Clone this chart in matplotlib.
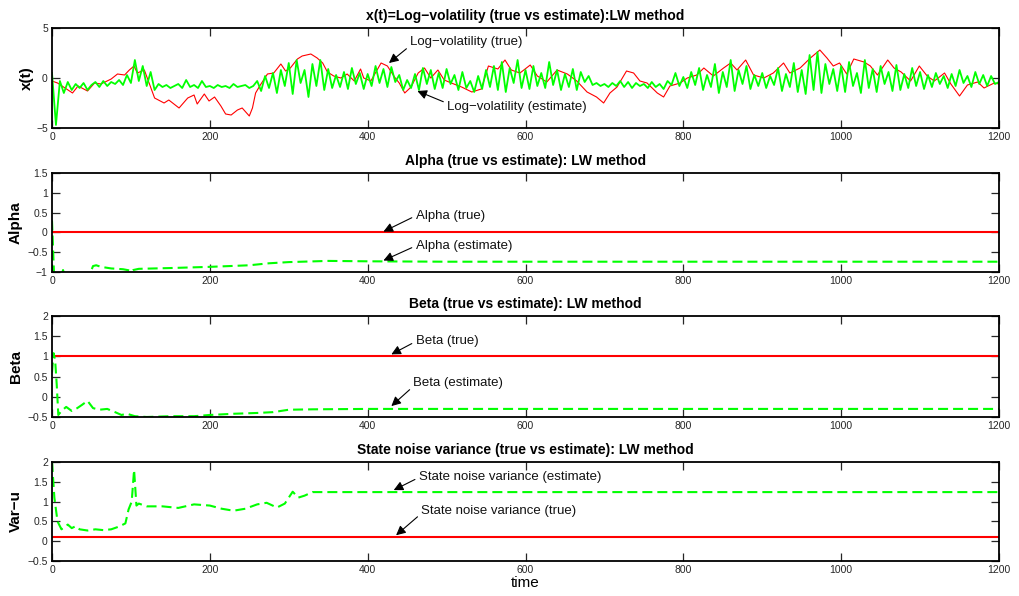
import numpy as np
import matplotlib
matplotlib.use("Agg")
import matplotlib.pyplot as plt

plt.rcParams['font.family'] = ['Liberation Sans', 'DejaVu Sans']
plt.rcParams['axes.unicode_minus'] = True

# ---------------- data ----------------
T_END = 1200

# true log-volatility (sampled at irregular times)
xt_true_t = [0, 7, 26, 33, 45, 54, 62, 75, 83, 92, 98, 104, 108, 117, 123, 130, 142, 148, 161, 172,
             180, 184, 193, 199, 206, 214, 220, 227, 235, 241, 250, 254, 258, 264, 273, 281, 290, 296, 302, 311,
             317, 328, 336, 343, 349, 357, 366, 374, 383, 391, 395, 404, 417, 425, 434, 440, 447, 455, 464, 472,
             480, 489, 497, 506, 519, 532, 544, 553, 565, 574, 582, 593,
             606, 615, 627, 640, 653, 665, 678, 690, 699, 707, 716, 728, 737, 745, 754, 767, 775, 783, 796, 805,
             817, 826, 838, 851, 860, 868, 879, 889, 902, 914, 927, 935, 948, 961, 973, 982, 990, 998, 1007, 1016,
             1029, 1037, 1046, 1059, 1067, 1076, 1088, 1099, 1109, 1118, 1131, 1139, 1150, 1160, 1173, 1181, 1194, 1200]
xt_true = [-0.3, -0.5, -1.5, -0.8, -1.3, -0.5, -0.6, -0.1, 0.4, 0.3, 0.8, 1.2, 0.5, 0.8, -0.5, -2.0, -2.5, -2.2, -3.0, -2.0,
           -1.7, -2.6, -1.6, -2.3, -1.9, -2.8, -3.6, -3.7, -3.2, -3.0, -3.8, -3.0, -1.5, -0.7, 0.4, 0.5, 1.4, 0.7, 1.0, 1.9,
           2.2, 2.4, 2.0, 1.5, 0.6, 0.2, 0.0, 0.4, -0.3, 0.9, 0.0, -0.3, 1.5, 1.2, 0.1, -0.5, -1.5, -0.9, 0.5, 1.0,
           0.0, 0.8, -0.2, -0.5, -0.9, -1.4, -1.1, 1.2, 0.9, 1.8, 0.8, 0.5,
           1.3, 0.2, -0.4, 0.8, 0.4, -0.3, -1.4, -1.9, -2.5, -1.5, -0.9, 0.7, 0.5, -0.3, -0.5, -1.5, -1.9, -0.8, -0.5, 0.0,
           0.3, 1.0, 0.2, 1.0, 1.5, 0.8, 1.8, 0.3, 0.0, 0.5, 1.5, 0.5, 1.0, 2.0, 2.8, 2.0, 1.2, 1.5, 0.4, 1.9,
           1.6, 1.2, 0.3, 1.8, 1.0, 0.6, -0.3, 1.2, 0.2, -0.3, 0.5, -0.6, -1.8, -0.7, -0.4, -1.0, -0.5, -0.6]

# estimated log-volatility, every 5 time steps
xt_est = [0.5, -4.7, -0.3, -1.5, -0.4, -1.2, -0.6, -1.0, -0.5, -1.2,
          -0.7, -0.4, -0.9, -0.3, -0.8, -0.4, -0.6, -0.2, -0.7, 0.3,
          -0.5, 1.8, -0.3, 1.2, -0.8, 0.6, -1.2, -0.6, -0.9, -0.7,
          -1.0, -0.8, -0.6, -1.0, -0.2, -0.9, -0.7, -1.0, -0.3, -0.9,
          -0.8, -1.0, -0.7, -0.9, -0.8, -1.0, -0.6, -0.9, -0.8, -0.7,
          -1.0, -0.8, -0.3, -1.3, 0.2, -1.0, 0.5, -1.5, 0.8, -0.8,
          1.5, -1.6, 1.8, -0.5, 0.8, -1.9, 1.4, -0.8, 1.8, -1.2,
          0.9, -1.0, 0.3, -0.9, 0.6, -1.1, 1.0, -0.6, 0.5, -1.1,
          0.4, -0.8, 1.2, -0.5, 0.9, -0.9, 1.1, -0.4, 0.3, -1.2,
          -0.2, -1.0, 0.4, -1.2, 1.0, -0.6, 0.8, -1.1, 0.5, -1.0,
          0.9, -0.6, 0.3, -1.2, 0.6, -1.0, -0.3, -1.4, 0.2, -1.1,
          0.8, -0.9, 1.2, -1.2, 1.6, -1.4, 1.0, -0.5, 1.8, -1.0,
          0.8, -1.1, 1.2, -0.8, 0.5, -1.0, 1.6, -0.7, 0.8, -1.2,
          0.4, -0.9, 0.9, -1.2, 0.6, -0.4, 0.2, -0.7, -0.5, -0.8,
          -0.6, -0.9, -0.5, -0.8, -0.3, -0.9, -0.4, -1.0, -0.5, -0.8,
          -0.6, -1.0, -0.4, -0.9, -0.6, -1.1, -0.3, -0.7, 0.5, -0.8,
          0.1, -1.0, 0.6, -0.7, 1.0, -1.2, 0.3, -0.9, 1.4, -1.5,
          0.6, -0.9, 1.8, -1.3, 0.8, -0.6, 1.2, -1.1, 0.3, -0.8,
          0.5, -1.0, 0.2, -0.7, 1.0, -1.3, 0.4, -0.9, 1.5, -1.4,
          0.8, -1.6, 2.3, -1.2, 2.6, -1.5, 1.4, -0.6, 0.9, -1.3,
          1.2, -1.4, 1.6, -0.8, 0.5, -1.5, 1.8, -1.0, 0.9, -1.4,
          1.2, -0.6, 0.6, -1.3, 1.3, -1.2, 0.4, -1.0, 1.0, -0.8,
          0.6, -1.1, 0.3, -0.9, 0.5, -0.6, 0.2, -1.0, 0.4, -0.8,
          0.8, -0.5, 0.2, -0.9, 0.6, -0.6, 0.3, -0.8, 0.2, -0.6,
          -0.4]
xt_est_t = np.arange(0, T_END + 1, 5)

# parameters: true constants and sequential estimates
alpha_true = 0.0
beta_true = 1.0
var_u_true = 0.1

alpha_est_t = [0, 3, 8, 12, 14, 16, 20, 30, 40, 48, 52, 56, 62, 75, 90, 98, 100, 103, 110,
               150, 200, 250, 275, 300, 350, 400, 500, 1200]
alpha_est = [0.3, -1.3, -1.5, -1.1, -0.95, -1.1, -1.4, -1.5, -1.3, -1.05, -0.85, -0.83, -0.87, -0.91,
             -0.93, -0.96, -1.0, -0.95, -0.92, -0.9, -0.87, -0.83, -0.78, -0.75, -0.72, -0.73, -0.74, -0.74]

beta_est_t = [0, 2, 4, 6, 8, 12, 18, 25, 32, 38, 45, 52, 60, 70, 80, 88, 95, 105, 120,
              150, 180, 200, 230, 260, 280, 300, 330, 400, 1200]
beta_est = [0.6, 1.08, 0.9, 0.3, -0.45, -0.35, -0.25, -0.35, -0.28, -0.2, -0.1, -0.28, -0.32, -0.3,
            -0.38, -0.45, -0.42, -0.48, -0.5, -0.48, -0.48, -0.45, -0.42, -0.4, -0.38, -0.32, -0.31, -0.3, -0.3]

var_u_est_t = [0, 3, 7, 12, 20, 25, 30, 35, 45, 55, 65, 75, 85, 93, 97, 101, 104, 107, 110, 120,
               140, 160, 180, 200, 215, 230, 245, 260, 272, 285, 295, 305, 312, 320, 330, 1200]
var_u_est = [2.0, 1.1, 0.5, 0.3, 0.42, 0.33, 0.38, 0.3, 0.27, 0.3, 0.28, 0.3, 0.37, 0.45, 0.8, 1.0,
             1.8, 0.9, 0.95, 0.88, 0.88, 0.84, 0.93, 0.9, 0.82, 0.77, 0.82, 0.93, 0.97, 0.85, 0.95,
             1.25, 1.1, 1.15, 1.24, 1.24]

x_ticks = [0, 200, 400, 600, 800, 1000, 1200]

# ---------------- figure ----------------
W, H = 1019, 596
fig = plt.figure(figsize=(W / 100, H / 100), dpi=100)


def px_axes(left, top, right, bottom):
    return fig.add_axes([left / W, 1 - bottom / H, (right - left) / W, (bottom - top) / H])


ax1 = px_axes(52, 28, 999, 128)
ax2 = px_axes(52, 173, 999, 272)
ax3 = px_axes(52, 316, 999, 417)
ax4 = px_axes(52, 462, 999, 561)

RED = '#ff0000'
GREEN = '#00ff00'


def style(ax, ylim, yticks, ylabel, label_x, title):
    ax.set_xlim(0, T_END)
    ax.set_ylim(*ylim)
    ax.set_xticks(x_ticks)
    ax.set_yticks(yticks)
    ax.set_yticklabels([('%g' % v).replace('-', '\u2212') for v in yticks])
    ax.tick_params(direction='in', length=5.5, width=0.9, top=True, right=True,
                   labelsize=7.5, colors='#262626', labelcolor='#262626', pad=3)
    for s in ax.spines.values():
        s.set_linewidth(1.3)
        s.set_color('black')
    ax.set_ylabel(ylabel, fontsize=11, fontweight='bold', va='center')
    ax.yaxis.set_label_coords(label_x, 0.5)
    ax.set_title(title, fontsize=10, fontweight='bold', pad=6)


dash = (4.8, 2.4)

# panel 1: log-volatility
ax1.plot(xt_true_t, xt_true, color=RED, lw=0.8)
ax1.plot(xt_est_t, xt_est, color=GREEN, lw=1.3)
style(ax1, (-5, 5), [-5, 0, 5], 'x(t)', -0.027,
      'x(t)=Log\u2212volatility (true vs estimate):LW method')

# panel 2: alpha
ax2.plot([0, T_END], [alpha_true, alpha_true], color=RED, lw=1.5)
ax2.plot(alpha_est_t, alpha_est, color=GREEN, lw=1.5, dashes=dash)
style(ax2, (-1, 1.5), [-1, -0.5, 0, 0.5, 1, 1.5], 'Alpha', -0.038,
      'Alpha (true vs estimate): LW method')

# panel 3: beta
ax3.plot([0, T_END], [beta_true, beta_true], color=RED, lw=1.5)
ax3.plot(beta_est_t, beta_est, color=GREEN, lw=1.5, dashes=dash)
style(ax3, (-0.5, 2), [-0.5, 0, 0.5, 1, 1.5, 2], 'Beta', -0.038,
      'Beta (true vs estimate): LW method')

# panel 4: state noise variance
ax4.plot([0, T_END], [var_u_true, var_u_true], color=RED, lw=1.5)
ax4.plot(var_u_est_t, var_u_est, color=GREEN, lw=1.5, dashes=dash)
style(ax4, (-0.5, 2), [-0.5, 0, 0.5, 1, 1.5, 2], 'Var\u2212u', -0.038,
      'State noise variance (true vs estimate): LW method')
ax4.set_xlabel('time', fontsize=11, va='center')
ax4.xaxis.set_label_coords(0.5, -0.22)

# text arrows
arrow = dict(arrowstyle='-|>', color='black', lw=0.8, mutation_scale=14,
             shrinkA=1, shrinkB=0)


def note(ax, text, xy, xytext, rel):
    a = dict(arrow)
    a['relpos'] = rel
    ax.annotate(text, xy=xy, xytext=xytext, ha='left', va='center', fontsize=9.5,
                color='#111111', arrowprops=a, annotation_clip=False)


note(ax1, 'Log\u2212volatility (true)', (427, 1.5), (454, 3.6), (0, 0.2))
note(ax1, 'Log\u2212volatility (estimate)', (463, -1.3), (501, -2.9), (0, 0.8))
note(ax2, 'Alpha (true)', (420, 0.02), (461, 0.42), (0, 0.5))
note(ax2, 'Alpha (estimate)', (420, -0.71), (461, -0.34), (0, 0.5))
note(ax3, 'Beta (true)', (430, 1.05), (461, 1.37), (0, 0.5))
note(ax3, 'Beta (estimate)', (430, -0.23), (458, 0.35), (0, 0.2))
note(ax4, 'State noise variance (estimate)', (433, 1.29), (465, 1.61), (0, 0.5))
note(ax4, 'State noise variance (true)', (436, 0.15), (468, 0.76), (0, 0.3))

fig.savefig('out.png', dpi=100)
